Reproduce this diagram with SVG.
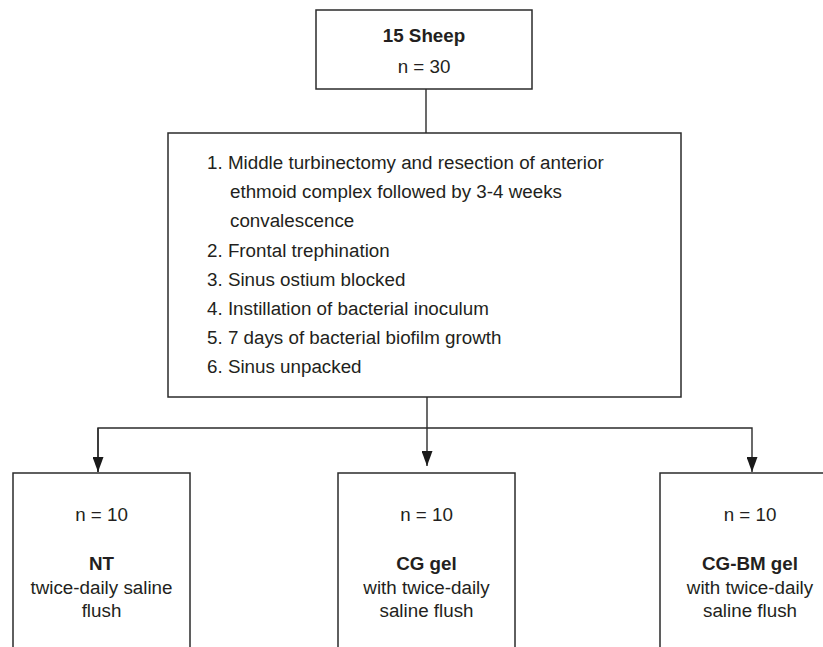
<svg xmlns="http://www.w3.org/2000/svg" width="823" height="647" viewBox="0 0 823 647">
  <style>
    .box { fill: #ffffff; stroke: #2b2b2b; stroke-width: 1.5; }
    .conn { fill: none; stroke: #2b2b2b; stroke-width: 1.4; }
    text { font-family: "Liberation Sans", Arial, Helvetica, sans-serif; font-size: 18.8px; fill: #231f20; }
    .c { text-anchor: middle; }
    .b { font-weight: bold; }
  </style>
  <defs>
    <marker id="arrow" viewBox="0 0 15 11" refX="15" refY="5.5" markerWidth="15" markerHeight="11" markerUnits="userSpaceOnUse" orient="auto">
      <path d="M0,0 L15,5.5 L0,11 z" fill="#1a1a1a"/>
    </marker>
  </defs>
  <rect width="823" height="647" fill="#ffffff"/>

  <g id="connectors">
    <line class="conn" x1="426" y1="89" x2="426" y2="133"/>
    <line class="conn" x1="427" y1="397" x2="427" y2="466" marker-end="url(#arrow)"/>
    <polyline class="conn" points="98,472 98,428 752,428 752,472" marker-end="url(#arrow)"/>
    <line class="conn" x1="98" y1="428" x2="98" y2="472" marker-end="url(#arrow)"/>
  </g>

  <g id="sheep">
    <rect class="box" x="316" y="10" width="216" height="79"/>
    <text class="c b" x="424" y="42">15 Sheep</text>
    <text class="c" x="424" y="72.5">n = 30</text>
  </g>

  <g id="procedure">
    <rect class="box" x="168" y="133" width="513" height="264"/>
    <text x="207" y="169">1. Middle turbinectomy and resection of anterior</text>
    <text x="230" y="198.2">ethmoid complex followed by 3-4 weeks</text>
    <text x="230" y="227.4">convalescence</text>
    <text x="207" y="256.6">2. Frontal trephination</text>
    <text x="207" y="285.8">3. Sinus ostium blocked</text>
    <text x="207" y="315">4. Instillation of bacterial inoculum</text>
    <text x="207" y="344.2">5. 7 days of bacterial biofilm growth</text>
    <text x="207" y="373.4">6. Sinus unpacked</text>
  </g>

  <g id="nt">
    <rect class="box" x="13" y="473" width="177" height="190"/>
    <text class="c" x="101.5" y="521">n = 10</text>
    <text class="c b" x="101.5" y="570">NT</text>
    <text class="c" x="101.5" y="593.5">twice-daily saline</text>
    <text class="c" x="101.5" y="617">flush</text>
  </g>

  <g id="cg">
    <rect class="box" x="338" y="473" width="177" height="190"/>
    <text class="c" x="426.5" y="521">n = 10</text>
    <text class="c b" x="426.5" y="570">CG gel</text>
    <text class="c" x="426.5" y="593.5">with twice-daily</text>
    <text class="c" x="426.5" y="617">saline flush</text>
  </g>

  <g id="cgbm">
    <rect class="box" x="660" y="473" width="177" height="190"/>
    <text class="c" x="750" y="521">n = 10</text>
    <text class="c b" x="750" y="570">CG-BM gel</text>
    <text class="c" x="750" y="593.5">with twice-daily</text>
    <text class="c" x="750" y="617">saline flush</text>
  </g>
</svg>
